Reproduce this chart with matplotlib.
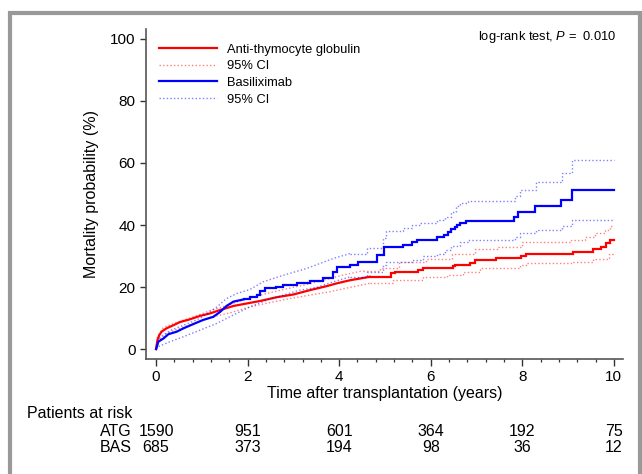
import numpy as np
import matplotlib
matplotlib.use('Agg')
import matplotlib.pyplot as plt
from matplotlib.patches import Rectangle
from matplotlib.transforms import blended_transform_factory
from matplotlib.ticker import MultipleLocator

plt.rcParams['font.family'] = ['Liberation Sans', 'DejaVu Sans']
plt.rcParams['mathtext.fontset'] = 'custom'
plt.rcParams['mathtext.rm'] = 'Liberation Sans'
plt.rcParams['mathtext.it'] = 'Liberation Sans:italic'

# --- Kaplan-Meier style cumulative mortality (%) ---
atg_t = [0, 0.03, 0.07, 0.12, 0.23, 0.38, 0.52, 0.74, 0.96, 1.18, 1.40, 1.69, 1.98,
         2.27, 2.63, 3.0, 3.36, 3.73, 3.95, 4.24, 4.67, 5.14, 5.22, 5.73, 5.84, 6.09,
         6.48, 6.53, 6.85, 6.96, 7.43, 7.98, 8.09, 9.11, 9.54, 9.72, 9.83, 9.91, 10.0]
atg_v = [0, 2.9, 4.5, 5.6, 6.7, 7.7, 8.7, 9.6, 10.7, 11.5, 12.6, 13.9, 14.7,
         15.5, 16.7, 17.6, 19.0, 20.3, 21.2, 22.2, 23.3, 24.4, 25.0, 25.5, 26.0, 26.3,
         26.8, 27.2, 27.6, 28.7, 29.5, 30.0, 30.8, 31.4, 32.2, 33.0, 34.3, 35.1, 35.1]

atg_up_t = [0, 0.03, 0.16, 0.45, 0.82, 1.18, 1.54, 1.91, 2.27, 2.78, 3.22, 3.65, 4.1,
            4.53, 4.89, 5.31, 5.89, 6.47, 6.97, 7.48, 7.99, 9.07, 9.37, 9.59, 9.81, 9.92, 10.0]
atg_up_v = [0, 3.8, 7.0, 8.6, 10.4, 12.4, 14.0, 15.9, 17.4, 19.2, 20.6, 22.2, 23.9,
            25.3, 26.3, 28.2, 29.2, 30.8, 32.4, 33.0, 34.4, 35.3, 36.2, 37.3, 38.4, 39.7, 39.7]

atg_lo_t = [0, 0.05, 0.23, 0.52, 0.82, 1.18, 1.62, 2.05, 2.49, 2.93, 3.36, 3.8, 4.24,
            4.67, 5.18, 5.84, 6.35, 6.71, 7.07, 7.95, 8.09, 9.11, 9.54, 9.9, 10.0]
atg_lo_v = [0, 2.4, 5.1, 6.7, 8.3, 10.2, 11.7, 13.6, 15.0, 16.3, 17.4, 18.5, 19.9,
            21.2, 22.4, 23.4, 24.0, 25.0, 26.0, 27.1, 27.9, 28.2, 29.2, 30.8, 30.8]

bas_t = [0, 0.05, 0.16, 0.27, 0.45, 0.6, 0.82, 1.03, 1.25, 1.40, 1.54, 1.69, 1.91,
         2.05, 2.2, 2.27, 2.38, 2.63, 2.78, 3.07, 3.36, 3.65, 3.87, 3.95, 4.24, 4.42,
         4.82, 4.98, 5.39, 5.58, 5.69, 6.13, 6.29, 6.37, 6.45, 6.53, 6.58, 6.65, 6.78,
         7.82, 7.91, 8.27, 8.84, 9.08, 10.0]
bas_v = [0, 2.4, 3.4, 4.8, 5.6, 6.7, 8.1, 9.4, 10.4, 12.0, 13.9, 15.3, 16.0,
         16.9, 17.4, 18.8, 19.6, 19.9, 20.7, 21.4, 22.1, 23.0, 25.0, 26.6, 27.1, 28.2,
         30.3, 32.8, 33.4, 34.6, 35.3, 36.0, 36.8, 37.7, 38.7, 39.4, 40.1, 40.6, 41.4,
         42.6, 44.2, 46.0, 48.2, 51.2, 51.2]

bas_up_t = [0, 0.09, 0.31, 0.6, 0.96, 1.33, 1.54, 1.76, 2.05, 2.34, 2.78, 3.29, 3.87,
            4.24, 4.6, 4.96, 5.03, 5.4, 5.58, 5.76, 6.13, 6.31, 6.45, 6.55, 6.64, 6.82,
            7.84, 7.95, 8.31, 8.86, 9.08, 10.0]
bas_up_v = [0, 3.8, 6.0, 7.7, 9.9, 13.6, 16.3, 17.9, 19.2, 21.7, 23.8, 26.0, 29.2,
            30.8, 32.5, 35.7, 38.2, 38.9, 40.0, 40.8, 41.6, 42.7, 44.3, 46.0, 47.0, 47.8,
            49.2, 51.4, 54.0, 56.7, 61.0, 61.0]

bas_lo_t = [0, 0.05, 0.31, 0.6, 0.96, 1.33, 1.69, 2.05, 2.42, 2.78, 3.14, 3.51, 3.87,
            4.24, 4.6, 4.96, 5.03, 5.58, 5.84, 6.13, 6.31, 6.45, 6.64, 6.82, 7.84, 7.95,
            8.31, 8.86, 9.08, 10.0]
bas_lo_v = [0, 0.8, 2.4, 4.0, 6.1, 8.3, 11.0, 13.6, 15.8, 17.4, 19.0, 19.9, 21.7,
            23.3, 25.0, 27.1, 28.2, 28.7, 30.0, 30.8, 31.9, 33.2, 34.6, 35.3, 36.2, 37.5,
            38.4, 39.7, 41.6, 41.6]

risk_times = [0, 2, 4, 6, 8, 10]
risk_atg = [1590, 951, 601, 364, 192, 75]
risk_bas = [685, 373, 194, 98, 36, 12]


def km_plot(ax, t, v, cut, label=None, **kw):
    # dense early part drawn as a continuous curve, sparse later part as steps
    t = np.asarray(t); v = np.asarray(v)
    n = np.searchsorted(t, cut, side='right')
    ax.plot(t[:n], v[:n], label=label, **kw)
    ax.plot(t[n - 1:], v[n - 1:], drawstyle='steps-post', **kw)


W, H = 642, 474
fig = plt.figure(figsize=(W / 100, H / 100), dpi=100)
ax = fig.add_axes([146 / W, 1 - 359 / H, 477 / W, 330 / H])

red, blue = '#ff0000', '#0000ff'
dot = (0, (1, 1.6))
main = dict(lw=1.6, solid_joinstyle='miter')
ci = dict(lw=1.0, ls=dot, alpha=0.5)
km_plot(ax, atg_t, atg_v, 4.7, label='Anti-thymocyte globulin', color=red, **main)
km_plot(ax, atg_up_t, atg_up_v, 4.6, label='95% CI', color=red, **ci)
km_plot(ax, atg_lo_t, atg_lo_v, 4.7, color=red, **ci)
km_plot(ax, bas_t, bas_v, 1.95, label='Basiliximab', color=blue, **main)
km_plot(ax, bas_up_t, bas_up_v, 4.3, label='95% CI', color=blue, **ci)
km_plot(ax, bas_lo_t, bas_lo_v, 4.3, color=blue, **ci)

ax.set_xlim(-0.22, 10.2)
ax.set_ylim(-3.2, 103.2)
ax.set_xticks(risk_times)
ax.xaxis.set_minor_locator(MultipleLocator(0.4))
ax.set_yticks([0, 20, 40, 60, 80, 100])

for s in ['top', 'right']:
    ax.spines[s].set_visible(False)
for s in ['left', 'bottom']:
    ax.spines[s].set_color('#555555')
    ax.spines[s].set_linewidth(1.2)
ax.tick_params(axis='both', which='major', labelsize=11, color='#333333', width=1.0, pad=3)
ax.tick_params(axis='y', length=4.5)
ax.tick_params(axis='x', which='major', length=5)
ax.tick_params(axis='x', which='minor', length=2.5, width=0.9, color='#333333')

ax.set_xlabel('Time after transplantation (years)', fontsize=11.5, labelpad=1.5)
ax.set_ylabel('Mortality probability (%)', fontsize=11.5, labelpad=8)

ax.legend(loc='upper left', bbox_to_anchor=(0.027, 0.956), frameon=False, fontsize=9.3,
          handlelength=4.5, handletextpad=0.75, labelspacing=0.36, borderpad=0, borderaxespad=0)

ax.text(0.987, 0.976, 'log-rank test, $P$ =  0.010', transform=ax.transAxes,
        ha='right', va='center', fontsize=9.3)

# numbers at risk
tr = blended_transform_factory(ax.transData, fig.transFigure)
fig.text(27 / W, 1 - 413 / H, 'Patients at risk', fontsize=11.5, ha='left', va='center')
for label, vals, ypix in [('ATG', risk_atg, 432), ('BAS', risk_bas, 448)]:
    fig.text(132 / W, 1 - ypix / H, label, fontsize=11.5, ha='right', va='center')
    for t, n in zip(risk_times, vals):
        ax.text(t, 1 - ypix / H, str(n), transform=tr, fontsize=11.5, ha='center', va='center', clip_on=False)

# gray outer frame
fig.patches.append(Rectangle((10 / W, -0.05), 629.5 / W, 1.05 - 13 / H, transform=fig.transFigure,
                             fill=False, edgecolor='#999999', lw=3, clip_on=False))

fig.savefig('out.png', dpi=100)
